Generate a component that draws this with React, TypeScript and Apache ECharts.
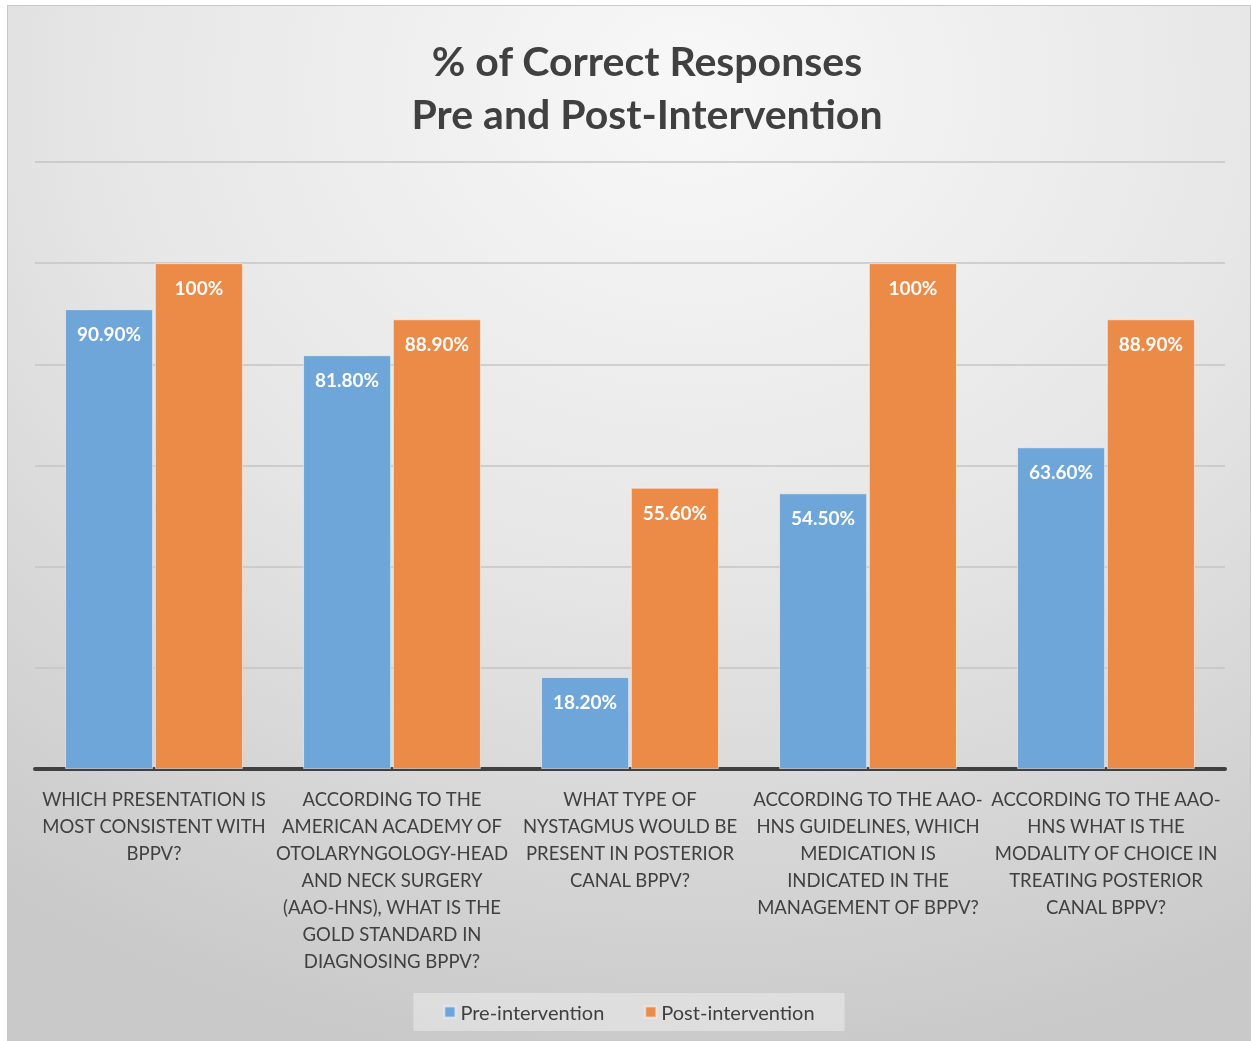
import React, { useEffect, useRef } from "react";
import * as echarts from "echarts";

// Survey questions (axis labels, wrapped as displayed)
const categories = [
  "WHICH PRESENTATION IS\nMOST CONSISTENT WITH\nBPPV?",
  "ACCORDING TO THE\nAMERICAN ACADEMY OF\nOTOLARYNGOLOGY-HEAD\nAND NECK SURGERY\n(AAO-HNS), WHAT IS THE\nGOLD STANDARD IN\nDIAGNOSING BPPV?",
  "WHAT TYPE OF\nNYSTAGMUS WOULD BE\nPRESENT IN POSTERIOR\nCANAL BPPV?",
  "ACCORDING TO THE AAO-\nHNS GUIDELINES, WHICH\nMEDICATION IS\nINDICATED IN THE\nMANAGEMENT OF BPPV?",
  "ACCORDING TO THE AAO-\nHNS WHAT IS THE\nMODALITY OF CHOICE IN\nTREATING POSTERIOR\nCANAL BPPV?",
];

// % correct responses
const preIntervention = [90.9, 81.8, 18.2, 54.5, 63.6];
const postIntervention = [100, 88.9, 55.6, 100, 88.9];

const seriesNames = ["Pre-intervention", "Post-intervention"];
const seriesColors = ["#6ea6da", "#ec8a48"];

const fmtPct = (v: number) => (v === 100 ? "100%" : v.toFixed(2) + "%");

export default function App() {
  const ref = useRef<HTMLDivElement>(null);

  useEffect(() => {
    if (!ref.current) return;
    const chart = echarts.init(ref.current, undefined, { renderer: "svg" });
    const W = 1244;
    const H = 1036;
    const font = "Lato, 'Open Sans', sans-serif";

    const barLabel = {
      show: true,
      position: "insideTop" as const,
      distance: 15,
      color: "#ffffff",
      fontWeight: "bold" as const,
      fontSize: 19,
      fontFamily: font,
      formatter: (p: any) => fmtPct(p.value),
    };

    chart.setOption({
      animation: false,
      graphic: [
        {
          type: "rect",
          z: -10,
          silent: true,
          shape: { x: 0, y: 0, width: W, height: H },
          style: {
            fill: new echarts.graphic.RadialGradient(0.55, 0.08, 0.95, [
              { offset: 0, color: "#f8f8f8" },
              { offset: 0.5, color: "#e6e6e6" },
              { offset: 1, color: "#c9c9c9" },
            ]),
            stroke: "#c8c8c8",
            lineWidth: 2,
          },
        },
      ],
      title: {
        text: "% of Correct Responses\nPre and Post-Intervention",
        left: 635,
        top: 24,
        textAlign: "center",
        textStyle: {
          fontFamily: font,
          fontSize: 41,
          fontWeight: "bold",
          color: "#404040",
          lineHeight: 53,
        },
      },
      legend: {
        data: seriesNames,
        bottom: 10,
        left: "center",
        itemWidth: 11,
        itemHeight: 11,
        itemGap: 40,
        padding: [9, 30],
        backgroundColor: "rgba(255,255,255,0.35)",
        icon: "rect",
        textStyle: { fontFamily: font, fontSize: 20, color: "#404040" },
      },
      grid: { left: 28, right: 26, top: 157, bottom: 272, containLabel: false },
      xAxis: {
        type: "category",
        data: categories,
        axisLine: { show: true, lineStyle: { color: "#404040", width: 4 } },
        axisTick: { show: false },
        axisLabel: {
          interval: 0,
          margin: 16,
          fontFamily: font,
          fontSize: 18.5,
          lineHeight: 27,
          color: "#404040",
        },
      },
      yAxis: {
        type: "value",
        min: 0,
        max: 120,
        interval: 20,
        axisLabel: { show: false },
        axisLine: { show: false },
        axisTick: { show: false },
        splitLine: { lineStyle: { color: "#c4c4c4", width: 1.5 } },
      },
      series: [
        {
          name: seriesNames[0],
          type: "bar",
          data: preIntervention,
          barWidth: "37%",
          barGap: "2%",
          barCategoryGap: "25%",
          itemStyle: { color: seriesColors[0], borderColor: "rgba(255,255,255,0.5)", borderWidth: 1 },
          label: barLabel,
        },
        {
          name: seriesNames[1],
          type: "bar",
          data: postIntervention,
          barWidth: "37%",
          itemStyle: { color: seriesColors[1], borderColor: "rgba(255,255,255,0.5)", borderWidth: 1 },
          label: barLabel,
        },
      ],
    });
    return () => chart.dispose();
  }, []);

  return (
    <div
      ref={ref}
      style={{ position: "fixed", left: 7, top: 5, width: 1244, height: 1036 }}
    />
  );
}
